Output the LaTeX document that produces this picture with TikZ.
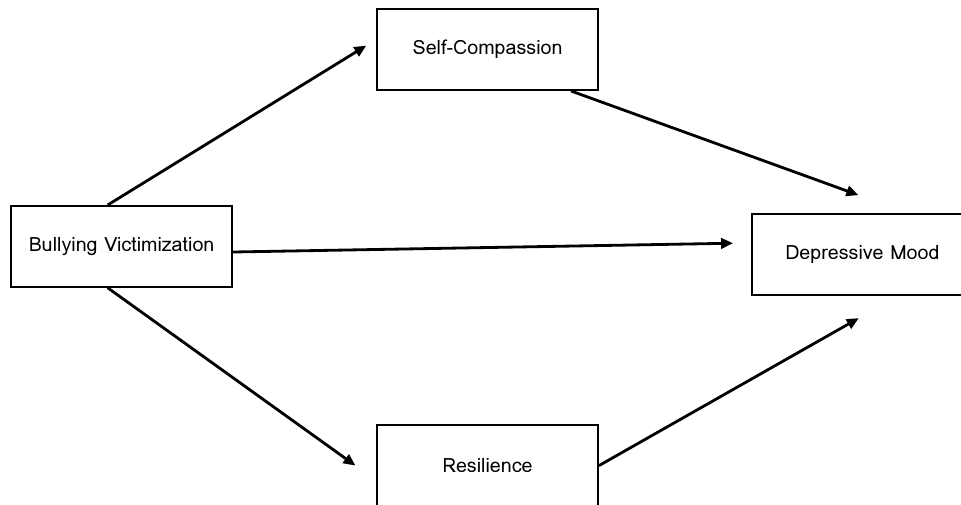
\documentclass[tikz,border=0pt]{standalone}
\usepackage{fontspec}
\setmainfont{Loma}
\usetikzlibrary{arrows.meta, positioning, calc}
\tikzset{
  var/.style={rectangle, draw=black, line width=1.2pt, minimum width=5.525cm,
    minimum height=2.025cm, align=center, font=\fontsize{14}{16}\selectfont},
  path/.style={-{Triangle[length=3mm, width=2.6mm]}, line width=2pt, draw=black}
}
\begin{document}
\begin{tikzpicture}
  \useasboundingbox (0,0) rectangle (24.025,-12.6);
  \node[var] (bv) at (3.04,-6.16) {Bullying Victimization};
  \node[var] (sc) at (12.19,-1.24) {Self-Compassion};
  \node[var] (dm) at (21.56,-6.36) {Depressive Mood};
  \node[var] (rs) at (12.19,-11.64) {Resilience};
  \draw[path] ([xshift=-0.35cm]bv.north) -- ([shift={(-0.25,0.1)}]sc.west);
  \draw[path] ([xshift=-0.7cm]sc.south east) -- ([shift={(-0.1,0.45)}]dm.north);
  \draw[path] ([yshift=-0.14cm]bv.east) -- ([shift={(-0.45,0.28)}]dm.west);
  \draw[path] ([xshift=-0.35cm]bv.south) -- ([xshift=-0.52cm]rs.west);
  \draw[path] (rs.east) -- ([shift={(-0.09,-0.56)}]dm.south);
\end{tikzpicture}
\end{document}
